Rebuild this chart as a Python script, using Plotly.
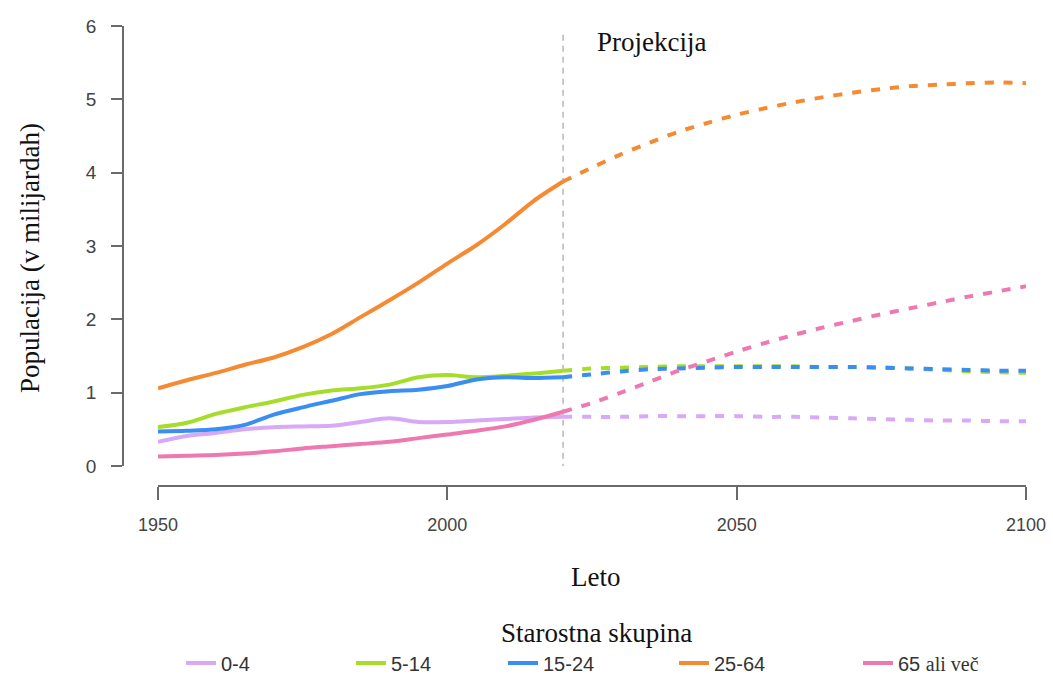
import plotly.graph_objects as go

# ---------------- data ----------------
years_hist = [1950, 1955, 1960, 1965, 1970, 1975, 1980, 1985, 1990, 1995, 2000, 2005, 2010, 2015, 2020]
years_proj = [2020, 2025, 2030, 2035, 2040, 2045, 2050, 2055, 2060, 2065, 2070, 2075, 2080, 2085, 2090, 2095, 2100]
proj_start = 2020

groups = ["0-4", "5-14", "15-24", "25-64", "65 ali več"]
legend_labels = ["0-4", "5-14", "15-24", "25-64",
                 "65 <span style='font-family:Liberation Serif'>ali več</span>"]

hist_0_4 = [0.33, 0.41, 0.45, 0.50, 0.53, 0.54, 0.55, 0.60, 0.65, 0.60, 0.60, 0.62, 0.64, 0.66, 0.67]
hist_5_14 = [0.53, 0.59, 0.71, 0.80, 0.88, 0.97, 1.03, 1.06, 1.11, 1.21, 1.24, 1.21, 1.23, 1.26, 1.30]
hist_15_24 = [0.47, 0.48, 0.50, 0.56, 0.70, 0.80, 0.89, 0.98, 1.02, 1.04, 1.09, 1.18, 1.21, 1.20, 1.21]
hist_25_64 = [1.06, 1.17, 1.27, 1.38, 1.48, 1.62, 1.80, 2.03, 2.26, 2.50, 2.76, 3.01, 3.30, 3.62, 3.88]
hist_65 = [0.13, 0.14, 0.15, 0.17, 0.20, 0.24, 0.27, 0.30, 0.33, 0.38, 0.43, 0.48, 0.54, 0.63, 0.74]

proj_0_4 = [0.67, 0.67, 0.67, 0.68, 0.68, 0.68, 0.68, 0.67, 0.67, 0.66, 0.65, 0.64, 0.63, 0.62, 0.62, 0.61, 0.61]
proj_5_14 = [1.30, 1.33, 1.34, 1.35, 1.36, 1.36, 1.36, 1.36, 1.36, 1.35, 1.35, 1.34, 1.33, 1.31, 1.29, 1.28, 1.27]
proj_15_24 = [1.21, 1.25, 1.29, 1.32, 1.33, 1.34, 1.35, 1.35, 1.35, 1.35, 1.35, 1.34, 1.33, 1.32, 1.31, 1.30, 1.30]
proj_25_64 = [3.88, 4.07, 4.25, 4.41, 4.56, 4.68, 4.79, 4.88, 4.96, 5.03, 5.09, 5.14, 5.18, 5.20, 5.22, 5.23, 5.22]
proj_65 = [0.74, 0.86, 1.00, 1.15, 1.30, 1.43, 1.56, 1.68, 1.79, 1.89, 1.98, 2.07, 2.15, 2.23, 2.31, 2.38, 2.45]

x_ticks = [1950, 2000, 2050, 2100]
y_ticks = [0, 1, 2, 3, 4, 5, 6]

hist_series = [hist_0_4, hist_5_14, hist_15_24, hist_25_64, hist_65]
proj_series = [proj_0_4, proj_5_14, proj_15_24, proj_25_64, proj_65]

# ---------------- style ----------------
colors = ["#D8A9F6", "#A6DD2B", "#3A8DF2", "#F58A33", "#EE78B0"]
legend_x_px = [181, 351, 503, 674, 858]
W, H = 1053, 675
SERIF = "Liberation Serif, Times New Roman, serif"
SANS = "Liberation Sans, Arial, sans-serif"
axis_col = "#6a6a6a"

fig = go.Figure()
legend_names = ["legend", "legend2", "legend3", "legend4", "legend5"]
for i in range(len(groups)):
    fig.add_trace(go.Scatter(
        x=years_proj, y=proj_series[i], mode="lines", name=groups[i],
        line=dict(color=colors[i], width=4, dash="9px,10px", shape="spline", smoothing=0.8),
        showlegend=False, hoverinfo="x+y+name"))
for i in range(len(groups)):
    fig.add_trace(go.Scatter(
        x=years_hist, y=hist_series[i], mode="lines", name=legend_labels[i],
        line=dict(color=colors[i], width=4, shape="spline", smoothing=0.8),
        legend=legend_names[i]))

fig.add_shape(type="line", xref="x", yref="y", x0=proj_start, x1=proj_start, y0=-0.05, y1=5.95,
              line=dict(color="#b8b8b8", width=1.5, dash="6px,5px"), layer="below")

layout = dict(
    width=W, height=H,
    margin=dict(l=0, r=0, t=0, b=0, autoexpand=False),
    paper_bgcolor="white", plot_bgcolor="white",
    xaxis=dict(domain=[158 / W, 1026 / W], range=[1950, 2100], anchor="free", position=1 - 486 / H,
               showline=True, linecolor=axis_col, linewidth=1.5, ticks="outside", ticklen=13,
               tickwidth=1.5, tickcolor=axis_col, tickvals=x_ticks, showgrid=False, zeroline=False,
               tickfont=dict(family=SANS, size=18, color="#444"), ticklabelstandoff=10,
               automargin=False),
    yaxis=dict(domain=[1 - 466 / H, 1 - 26 / H], range=[0, 6], anchor="free", position=123 / W,
               showline=True, linecolor=axis_col, linewidth=1.5, ticks="outside", ticklen=11,
               tickwidth=1.5, tickcolor=axis_col, tickvals=y_ticks, showgrid=False, zeroline=False,
               tickfont=dict(family=SANS, size=19, color="#444"), ticklabelstandoff=11,
               automargin=False),
    annotations=[
        dict(text="Projekcija", xref="x", yref="y", x=proj_start + 5.5, y=5.78, xanchor="left",
             yanchor="middle", showarrow=False, font=dict(family=SERIF, size=27, color="#111")),
        dict(text="Leto", xref="paper", yref="paper", x=595 / W, y=1 - 577 / H, xanchor="center",
             yanchor="middle", showarrow=False, font=dict(family=SERIF, size=27, color="#111")),
        dict(text="Populacija (v milijardah)", xref="paper", yref="paper", x=30 / W, y=1 - 258 / H,
             xanchor="center", yanchor="middle", textangle=-90, showarrow=False,
             font=dict(family=SERIF, size=27, color="#111")),
        dict(text="Starostna skupina", xref="paper", yref="paper", x=596 / W, y=1 - 633 / H,
             xanchor="center", yanchor="middle", showarrow=False,
             font=dict(family=SERIF, size=27, color="#111")),
    ],
)
for i, ln in enumerate(legend_names):
    layout[ln] = dict(orientation="h", x=legend_x_px[i] / W, y=1 - 663 / H, xanchor="left",
                      yanchor="middle", bgcolor="rgba(0,0,0,0)",
                      font=dict(family=SANS, size=20, color="#333"))
fig.update_layout(**layout)

fig.write_html("out.html", config={"displayModeBar": False},
               post_script="document.body.style.margin='0';document.body.style.overflow='hidden';")
